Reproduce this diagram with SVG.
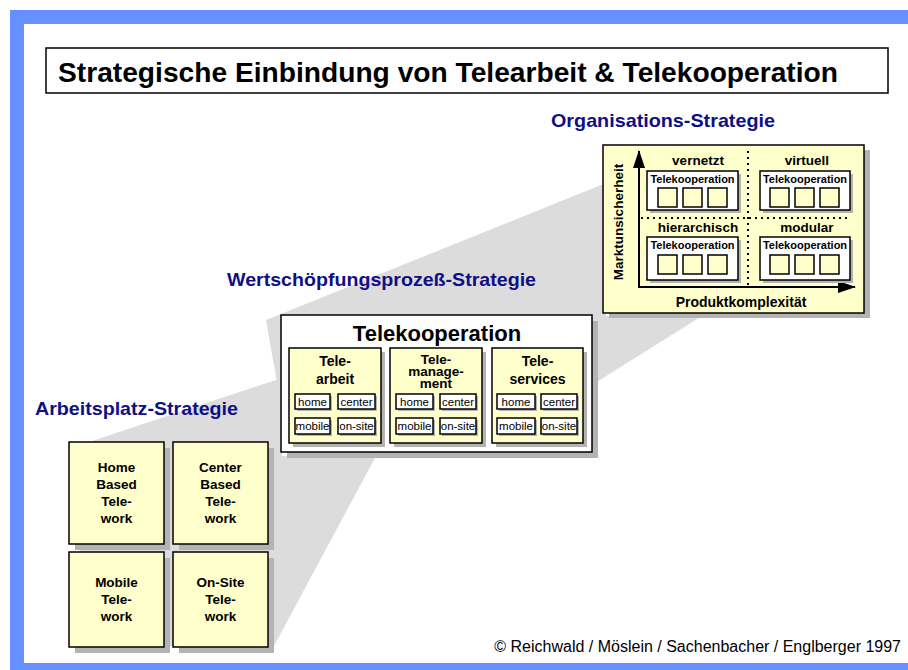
<svg xmlns="http://www.w3.org/2000/svg" width="908" height="670" viewBox="0 0 908 670">
<defs>
<style>
.b{font-family:"Liberation Sans",Arial,sans-serif;font-weight:bold;fill:#000}
.r{font-family:"Liberation Sans",Arial,sans-serif;fill:#000}
.h{font-family:"Liberation Sans",Arial,sans-serif;font-weight:bold;fill:#0f0f85;font-size:19px}
.y{fill:#ffffcc;stroke:#000;stroke-width:1.5}
.w{fill:#fff;stroke:#000;stroke-width:1.5}
.s{fill:#b3b3b3}
.wedge{fill:#dcdcdc}
.dot{stroke:#000;stroke-width:2;stroke-dasharray:2 4;fill:none}
</style>
<marker id="ah" viewBox="0 0 18 12" refX="17" refY="6" markerWidth="18" markerHeight="12" markerUnits="userSpaceOnUse" orient="auto"><path d="M0,0 L18,6 L0,12 Z" fill="#000"/></marker>
</defs>
<rect x="10" y="10" width="898" height="660" fill="#6690ff"/>
<rect x="24" y="24" width="884" height="639" fill="#fff"/>
<g id="title">
<rect x="46" y="48" width="842" height="45" fill="#fff" stroke="#000" stroke-width="1.5"/>
<text class="b" x="58" y="82" font-size="27" textLength="780" lengthAdjust="spacingAndGlyphs">Strategische Einbindung von Telearbeit &amp; Telekooperation</text>
</g>
<g id="connectors">
<polygon class="wedge" points="80,445 282,378 282,456 376,456 274,646 80,646"/>
<polygon class="wedge" points="266,320 606,183 606,316 702,316 560,405 281,405"/>
</g>
<text class="h" x="551" y="127" textLength="224" lengthAdjust="spacingAndGlyphs">Organisations-Strategie</text>
<text class="h" x="227" y="286" textLength="309" lengthAdjust="spacingAndGlyphs">Wertschöpfungsprozeß-Strategie</text>
<text class="h" x="35" y="415" textLength="203" lengthAdjust="spacingAndGlyphs">Arbeitsplatz-Strategie</text>
<g id="arbeitsplatz">
<g id="home-based">
<rect class="s" x="75" y="448" width="95" height="102"/>
<rect class="y" x="69" y="442" width="95" height="102"/>
<text class="b" font-size="13.5" text-anchor="middle"><tspan x="116.5" y="472">Home</tspan><tspan x="116.5" y="489">Based</tspan><tspan x="116.5" y="506">Tele-</tspan><tspan x="116.5" y="523">work</tspan></text>
</g>
<g id="center-based">
<rect class="s" x="179" y="448" width="95" height="102"/>
<rect class="y" x="173" y="442" width="95" height="102"/>
<text class="b" font-size="13.5" text-anchor="middle"><tspan x="220.5" y="472">Center</tspan><tspan x="220.5" y="489">Based</tspan><tspan x="220.5" y="506">Tele-</tspan><tspan x="220.5" y="523">work</tspan></text>
</g>
<g id="mobile">
<rect class="s" x="75" y="558" width="95" height="95"/>
<rect class="y" x="69" y="552" width="95" height="95"/>
<text class="b" font-size="13.5" text-anchor="middle"><tspan x="116.5" y="587">Mobile</tspan><tspan x="116.5" y="604">Tele-</tspan><tspan x="116.5" y="621">work</tspan></text>
</g>
<g id="on-site">
<rect class="s" x="179" y="558" width="95" height="95"/>
<rect class="y" x="173" y="552" width="95" height="95"/>
<text class="b" font-size="13.5" text-anchor="middle"><tspan x="220.5" y="587">On-Site</tspan><tspan x="220.5" y="604">Tele-</tspan><tspan x="220.5" y="621">work</tspan></text>
</g>
</g>
<g id="telekooperation">
<rect class="s" x="287" y="321" width="311" height="137"/>
<rect class="w" x="281" y="315" width="311" height="137"/>
<text class="b" font-size="22" text-anchor="middle" x="437" y="341">Telekooperation</text>
<g id="telearbeit">
<rect class="s" x="293" y="352" width="92" height="95"/>
<rect class="y" x="289" y="348" width="92" height="95"/>
<text class="b" font-size="14" text-anchor="middle"><tspan x="335" y="366">Tele-</tspan><tspan x="335" y="384">arbeit</tspan></text>
<rect class="s" x="297" y="396" width="35" height="15"/><rect class="w" x="295" y="394" width="35" height="15"/><text class="r" font-size="11.5" text-anchor="middle" x="312.5" y="406">home</text>
<rect class="s" x="340" y="396" width="37" height="15"/><rect class="w" x="338" y="394" width="37" height="15"/><text class="r" font-size="11.5" text-anchor="middle" x="356.5" y="406">center</text>
<rect class="s" x="297" y="420" width="35" height="16"/><rect class="w" x="295" y="418" width="35" height="16"/><text class="r" font-size="11.5" text-anchor="middle" x="312.5" y="430">mobile</text>
<rect class="s" x="340" y="420" width="37" height="16"/><rect class="w" x="338" y="418" width="37" height="16"/><text class="r" font-size="11.5" text-anchor="middle" x="356.5" y="430">on-site</text>
</g>
<g id="telemanagement">
<rect class="s" x="394" y="352" width="92" height="95"/>
<rect class="y" x="390" y="348" width="92" height="95"/>
<text class="b" font-size="13.5" text-anchor="middle"><tspan x="436" y="364">Tele-</tspan><tspan x="436" y="376">manage-</tspan><tspan x="436" y="388">ment</tspan></text>
<rect class="s" x="398" y="396" width="37" height="15"/><rect class="w" x="396" y="394" width="37" height="15"/><text class="r" font-size="11.5" text-anchor="middle" x="414.5" y="406">home</text>
<rect class="s" x="442" y="396" width="36" height="15"/><rect class="w" x="440" y="394" width="36" height="15"/><text class="r" font-size="11.5" text-anchor="middle" x="458" y="406">center</text>
<rect class="s" x="398" y="420" width="37" height="16"/><rect class="w" x="396" y="418" width="37" height="16"/><text class="r" font-size="11.5" text-anchor="middle" x="414.5" y="430">mobile</text>
<rect class="s" x="442" y="420" width="36" height="16"/><rect class="w" x="440" y="418" width="36" height="16"/><text class="r" font-size="11.5" text-anchor="middle" x="458" y="430">on-site</text>
</g>
<g id="teleservices">
<rect class="s" x="496" y="352" width="91" height="95"/>
<rect class="y" x="492" y="348" width="91" height="95"/>
<text class="b" font-size="14" text-anchor="middle"><tspan x="537.5" y="366">Tele-</tspan><tspan x="537.5" y="384">services</tspan></text>
<rect class="s" x="499" y="396" width="38" height="15"/><rect class="w" x="497" y="394" width="38" height="15"/><text class="r" font-size="11.5" text-anchor="middle" x="516" y="406">home</text>
<rect class="s" x="543" y="396" width="36" height="15"/><rect class="w" x="541" y="394" width="36" height="15"/><text class="r" font-size="11.5" text-anchor="middle" x="559" y="406">center</text>
<rect class="s" x="499" y="420" width="38" height="16"/><rect class="w" x="497" y="418" width="38" height="16"/><text class="r" font-size="11.5" text-anchor="middle" x="516" y="430">mobile</text>
<rect class="s" x="543" y="420" width="36" height="16"/><rect class="w" x="541" y="418" width="36" height="16"/><text class="r" font-size="11.5" text-anchor="middle" x="559" y="430">on-site</text>
</g>
</g>
<g id="organisation">
<rect class="s" x="609" y="150" width="261" height="168"/>
<rect class="y" x="603" y="145" width="261" height="168"/>
<line class="dot" x1="748" y1="151" x2="748" y2="286"/>
<line class="dot" x1="641" y1="218" x2="850" y2="218"/>
<line x1="639" y1="288" x2="639" y2="151" stroke="#000" stroke-width="2" marker-end="url(#ah)"/>
<line x1="638" y1="287" x2="855" y2="287" stroke="#000" stroke-width="2" marker-end="url(#ah)"/>
<text class="b" font-size="13.5" text-anchor="middle" transform="translate(623,222) rotate(-90)">Marktunsicherheit</text>
<text class="b" font-size="14" text-anchor="middle" x="741" y="307">Produktkomplexität</text>
<text class="b" font-size="13.5" text-anchor="middle" x="698" y="165">vernetzt</text>
<text class="b" font-size="13.5" text-anchor="middle" x="807" y="165">virtuell</text>
<text class="b" font-size="13.5" text-anchor="middle" x="698" y="232">hierarchisch</text>
<text class="b" font-size="13.5" text-anchor="middle" x="807" y="232">modular</text>
<g id="q-vernetzt">
<rect class="s" x="650" y="174" width="91" height="39"/>
<rect class="w" x="647" y="171" width="91" height="39"/>
<text class="b" font-size="11" text-anchor="middle" x="692.5" y="183">Telekooperation</text>
<rect class="y" x="658" y="188" width="19" height="19"/><rect class="y" x="683" y="188" width="19" height="19"/><rect class="y" x="708" y="188" width="19" height="19"/>
</g>
<g id="q-virtuell">
<rect class="s" x="763" y="174" width="90" height="39"/>
<rect class="w" x="760" y="171" width="90" height="39"/>
<text class="b" font-size="11" text-anchor="middle" x="805" y="183">Telekooperation</text>
<rect class="y" x="770" y="188" width="19" height="19"/><rect class="y" x="795" y="188" width="19" height="19"/><rect class="y" x="820" y="188" width="19" height="19"/>
</g>
<g id="q-hierarchisch">
<rect class="s" x="650" y="240" width="91" height="43"/>
<rect class="w" x="647" y="237" width="91" height="43"/>
<text class="b" font-size="11" text-anchor="middle" x="692.5" y="249">Telekooperation</text>
<rect class="y" x="658" y="255" width="19" height="19"/><rect class="y" x="683" y="255" width="19" height="19"/><rect class="y" x="708" y="255" width="19" height="19"/>
</g>
<g id="q-modular">
<rect class="s" x="763" y="240" width="90" height="43"/>
<rect class="w" x="760" y="237" width="90" height="43"/>
<text class="b" font-size="11" text-anchor="middle" x="805" y="249">Telekooperation</text>
<rect class="y" x="770" y="255" width="19" height="19"/><rect class="y" x="795" y="255" width="19" height="19"/><rect class="y" x="820" y="255" width="19" height="19"/>
</g>
</g>
<text class="r" font-size="16" text-anchor="end" x="901" y="652">© Reichwald / Möslein / Sachenbacher / Englberger 1997</text>
</svg>
